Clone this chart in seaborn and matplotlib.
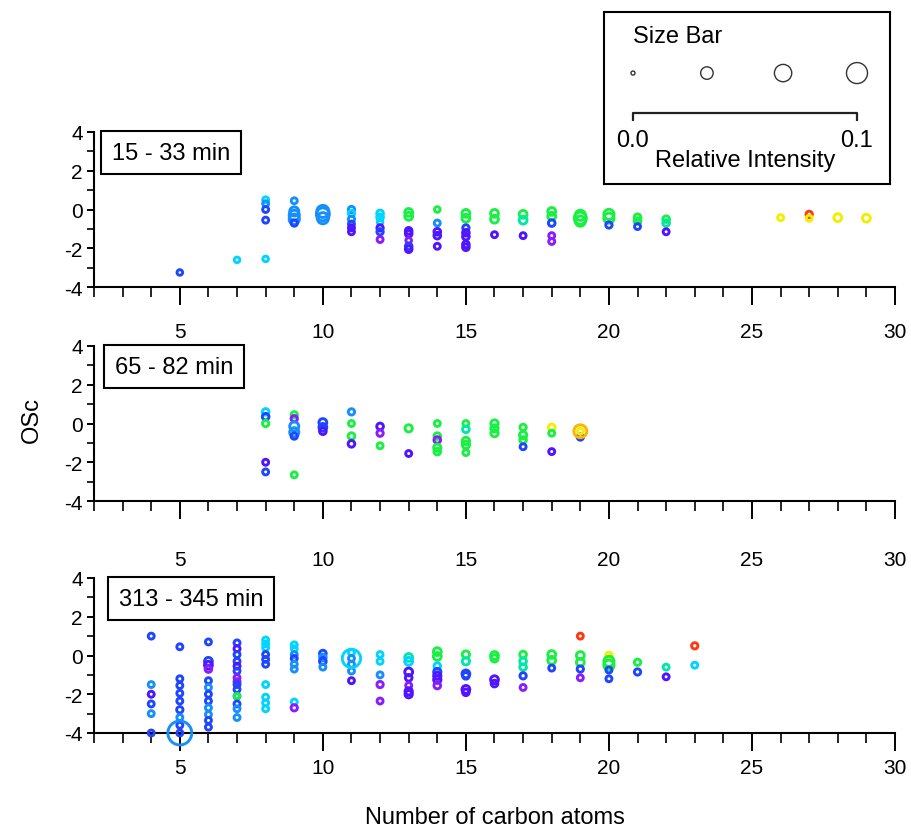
import numpy as np
import pandas as pd
import matplotlib
matplotlib.use("Agg")
import matplotlib.pyplot as plt
import seaborn as sns
from matplotlib.ticker import MultipleLocator

sns.set_theme(style="ticks")
plt.rcParams['font.family'] = ['Liberation Sans', 'DejaVu Sans']
plt.rcParams['axes.unicode_minus'] = False

# ---------------- data ----------------
# colour codes: P purple, V violet-blue, B blue, L light blue, C cyan,
# T teal, G green, Y yellow, O orange, R red
top_carbon = [5, 7, 8, 8, 8, 8, 8,
              9, 9, 9, 9, 9,
              10, 10, 10,
              11, 11, 11, 11, 11, 11,
              12, 12, 12, 12, 12, 12,
              13, 13, 13, 13, 13, 13, 13,
              14, 14, 14, 14, 14,
              15, 15, 15, 15, 15, 15, 15,
              16, 16, 16,
              17, 17, 17,
              18, 18, 18, 18, 18,
              19, 19, 19,
              20, 20, 20,
              21, 21, 21,
              22, 22, 22,
              26, 27, 27, 28, 29]
top_osc = [-3.25, -2.6, -2.55, 0.5, 0.3, 0.0, -0.55,
           0.45, -0.1, -0.3, -0.5, -0.7,
           -0.1, -0.25, -0.45,
           0.0, -0.2, -0.5, -0.75, -0.95, -1.15,
           -0.2, -0.4, -0.65, -0.95, -1.15, -1.55,
           -0.15, -0.35, -1.1, -1.25, -1.6, -1.9, -2.05,
           0.0, -0.7, -1.15, -1.35, -1.9,
           -0.2, -0.45, -0.95, -1.2, -1.4, -1.8, -1.95,
           -0.2, -0.5, -1.3,
           -0.25, -0.55, -1.35,
           -0.1, -0.35, -0.7, -1.35, -1.65,
           -0.3, -0.45, -0.6,
           -0.25, -0.45, -0.8,
           -0.4, -0.6, -0.88,
           -0.5, -0.7, -1.15,
           -0.42, -0.25, -0.45, -0.42, -0.45]
top_color = ["B", "C", "C", "C", "L", "B", "B",
             "L", "L", "L", "L", "B",
             "L", "L", "L",
             "L", "C", "L", "B", "V", "V",
             "C", "C", "C", "V", "B", "P",
             "G", "G", "V", "V", "P", "B", "V",
             "G", "L", "V", "V", "V",
             "G", "G", "B", "V", "V", "V", "V",
             "G", "G", "V",
             "G", "T", "V",
             "G", "G", "B", "P", "P",
             "G", "G", "G",
             "G", "G", "B",
             "G", "G", "B",
             "G", "T", "V",
             "Y", "R", "Y", "Y", "Y"]
top_intensity = [0.003, 0.003, 0.003, 0.004, 0.004, 0.004, 0.004,
                 0.004, 0.015, 0.02, 0.02, 0.005,
                 0.03, 0.035, 0.025,
                 0.005, 0.005, 0.005, 0.004, 0.004, 0.004,
                 0.006, 0.006, 0.003, 0.005, 0.005, 0.004,
                 0.01, 0.01, 0.006, 0.006, 0.003, 0.006, 0.006,
                 0.003, 0.004, 0.006, 0.006, 0.004,
                 0.01, 0.01, 0.005, 0.006, 0.006, 0.006, 0.006,
                 0.01, 0.01, 0.004,
                 0.01, 0.01, 0.004,
                 0.01, 0.01, 0.006, 0.004, 0.004,
                 0.02, 0.03, 0.02,
                 0.02, 0.02, 0.005,
                 0.006, 0.006, 0.004,
                 0.006, 0.006, 0.004,
                 0.004, 0.005, 0.004, 0.01, 0.01]

mid_carbon = [4,
              8, 8, 8, 8, 8,
              9, 9, 9, 9, 9, 9,
              10, 10, 10,
              11, 11, 11, 11,
              12, 12, 12,
              13, 13,
              14, 14, 14, 14, 14,
              15, 15, 15, 15, 15,
              16, 16, 16,
              17, 17, 17, 17,
              18, 18, 18,
              19, 19, 19]
mid_osc = [3.55,
           0.6, 0.35, 0.0, -2.0, -2.5,
           0.45, 0.25, -0.15, -0.45, -0.65, -2.65,
           0.05, -0.2, -0.4,
           0.6, 0.0, -0.65, -1.05,
           -0.15, -0.5, -1.15,
           -0.25, -1.55,
           0.0, -0.65, -0.85, -1.25, -1.45,
           0.0, -0.3, -0.9, -1.1, -1.5,
           0.0, -0.25, -0.5,
           -0.2, -0.6, -0.85, -1.2,
           -0.2, -0.5, -1.45,
           -0.7, -0.4, -0.4]
mid_color = ["G",
             "C", "B", "G", "V", "B",
             "G", "P", "L", "L", "B", "G",
             "B", "B", "V",
             "L", "G", "G", "V",
             "V", "P", "G",
             "G", "V",
             "G", "G", "P", "G", "G",
             "G", "T", "G", "G", "G",
             "G", "G", "G",
             "G", "G", "G", "B",
             "Y", "G", "V",
             "B", "O", "Y"]
mid_intensity = [0.003,
                 0.006, 0.006, 0.005, 0.004, 0.004,
                 0.005, 0.005, 0.015, 0.015, 0.005, 0.004,
                 0.01, 0.01, 0.006,
                 0.005, 0.004, 0.006, 0.006,
                 0.006, 0.005, 0.004,
                 0.008, 0.004,
                 0.004, 0.006, 0.006, 0.008, 0.006,
                 0.004, 0.006, 0.008, 0.008, 0.004,
                 0.008, 0.008, 0.008,
                 0.005, 0.008, 0.006, 0.004,
                 0.006, 0.004, 0.004,
                 0.005, 0.035, 0.004]

bot_carbon = [4, 4, 4, 4, 4, 4,
              5, 5, 5, 5, 5, 5, 5, 5, 5, 5,
              6, 6, 6, 6, 6, 6, 6, 6, 6, 6, 6, 6,
              7, 7, 7, 7, 7, 7, 7, 7, 7, 7, 7, 7, 7, 7, 7,
              8, 8, 8, 8, 8, 8, 8, 8, 8, 8,
              9, 9, 9, 9, 9, 9, 9, 9,
              10, 10, 10, 10,
              11, 11, 11, 11, 11, 11,
              12, 12, 12, 12, 12,
              13, 13, 13, 13, 13, 13, 13,
              14, 14, 14, 14, 14, 14, 14,
              15, 15, 15, 15, 15, 15,
              16, 16, 16, 16,
              17, 17, 17, 17, 17,
              18, 18, 18,
              19, 19, 19, 19, 19,
              20, 20, 20, 20, 20,
              21, 21,
              22, 22,
              23, 23]
bot_osc = [1.0, -1.5, -2.0, -2.5, -3.0, -4.0,
           0.45, -1.2, -1.55, -1.95, -2.35, -2.8, -3.2, -3.6, -4.0, -4.0,
           0.7, -0.3, -0.5, -0.7, -1.3, -1.65, -2.0, -2.35, -2.7, -3.05, -3.35, -3.7,
           0.65, 0.35, 0.05, -0.3, -0.55, -0.8, -1.15, -1.35, -1.5, -1.75, -2.1, -2.1, -2.5, -2.75, -3.2,
           0.8, 0.6, 0.4, 0.05, -0.2, -0.45, -1.5, -2.15, -2.45, -2.75,
           0.55, 0.35, 0.05, -0.15, -0.45, -0.7, -2.4, -2.7,
           0.1, -0.1, -0.3, -0.6,
           0.15, -0.15, -0.45, -0.8, -1.3, -0.15,
           0.05, -0.3, -1.0, -1.5, -2.35,
           -0.1, -0.3, -0.85, -1.15, -1.55, -1.85, -2.0,
           0.2, -0.05, -0.55, -0.85, -1.05, -1.25, -1.55,
           0.05, -0.3, -0.95, -1.05, -1.75, -1.9,
           0.0, -0.15, -1.25, -1.45,
           0.05, -0.3, -0.6, -1.05, -1.65,
           0.05, -0.25, -0.65,
           1.0, 0.0, -0.35, -0.7, -1.15,
           0.0, -0.3, -0.5, -0.75, -1.2,
           -0.35, -0.85,
           -0.6, -1.1,
           0.5, -0.5]
bot_color = ["B", "L", "V", "B", "L", "B",
             "B", "B", "B", "B", "B", "B", "L", "B", "B", "L",
             "B", "B", "V", "P", "B", "L", "B", "B", "L", "L", "B", "B",
             "B", "V", "B", "B", "V", "B", "P", "P", "B", "B", "L", "G", "B", "L", "L",
             "C", "C", "C", "B", "B", "B", "C", "C", "C", "C",
             "C", "C", "L", "B", "L", "L", "C", "P",
             "B", "L", "B", "L",
             "C", "L", "L", "L", "V", "C",
             "C", "C", "L", "P", "P",
             "T", "C", "V", "V", "P", "V", "V",
             "G", "G", "C", "B", "V", "V", "P",
             "G", "T", "B", "B", "V", "V",
             "G", "G", "V", "V",
             "G", "T", "T", "B", "P",
             "G", "G", "B",
             "R", "G", "G", "B", "P",
             "Y", "G", "G", "B", "B",
             "G", "B",
             "T", "V",
             "R", "C"]
bot_intensity = [0.004, 0.004, 0.004, 0.004, 0.004, 0.004,
                 0.004, 0.004, 0.004, 0.004, 0.004, 0.005, 0.004, 0.004, 0.004, 0.13,
                 0.004, 0.01, 0.01, 0.006, 0.004, 0.004, 0.004, 0.004, 0.004, 0.004, 0.004, 0.004,
                 0.004, 0.004, 0.004, 0.004, 0.004, 0.004, 0.004, 0.004, 0.004, 0.004, 0.004, 0.002, 0.004, 0.004, 0.004,
                 0.004, 0.004, 0.004, 0.004, 0.004, 0.004, 0.004, 0.004, 0.004, 0.004,
                 0.004, 0.004, 0.004, 0.004, 0.004, 0.004, 0.004, 0.005,
                 0.006, 0.006, 0.006, 0.004,
                 0.004, 0.004, 0.004, 0.004, 0.004, 0.075,
                 0.004, 0.004, 0.004, 0.005, 0.004,
                 0.01, 0.01, 0.01, 0.006, 0.004, 0.008, 0.008,
                 0.01, 0.01, 0.006, 0.008, 0.008, 0.008, 0.006,
                 0.008, 0.008, 0.01, 0.006, 0.01, 0.006,
                 0.01, 0.008, 0.01, 0.006,
                 0.006, 0.006, 0.006, 0.005, 0.004,
                 0.01, 0.01, 0.004,
                 0.004, 0.01, 0.01, 0.005, 0.004,
                 0.006, 0.02, 0.02, 0.004, 0.004,
                 0.005, 0.005,
                 0.004, 0.004,
                 0.005, 0.004]

panel_labels = ["15 - 33 min", "65 - 82 min", "313 - 345 min"]
legend_intensity = [0.0, 0.033, 0.067, 0.1]
xtick_values = [5, 10, 15, 20, 25, 30]
ytick_values = [-4, -2, 0, 2, 4]

PALETTE = {"P": "#8a1cff", "V": "#5014ff", "B": "#1f46ff", "L": "#168ffc",
           "C": "#00d4ff", "T": "#00e8a8", "G": "#19f043", "Y": "#f2ee00",
           "O": "#ffb400", "R": "#ff3a12"}
SIZES = (9.5, 9.5 + 2200 * 0.15)
NORM = (0.0, 0.15)

# ---------------- figure ----------------
fig = plt.figure(figsize=(9.12, 8.28), dpi=100)
W, H = 912.0, 828.0
left = 94 / W
width = (895 - 94) / W
panel_bottoms_px = [288, 502, 734]
panel_h = 155 / H
box_left_px = [101, 104, 108]
label_pads = [12, 22, 5]

datasets = [
    (top_carbon, top_osc, top_color, top_intensity),
    (mid_carbon, mid_osc, mid_color, mid_intensity),
    (bot_carbon, bot_osc, bot_color, bot_intensity),
]

for i, (c, o, col, inten) in enumerate(datasets):
    ax = fig.add_axes([left, 1 - panel_bottoms_px[i] / H, width, panel_h])
    df = pd.DataFrame({"carbon": c, "osc": o, "color": col, "intensity": inten})
    sns.scatterplot(data=df, x="carbon", y="osc", hue="color", palette=PALETTE,
                    size="intensity", sizes=SIZES, size_norm=NORM,
                    legend=False, ax=ax, clip_on=False, linewidth=0, zorder=3)
    coll = ax.collections[-1]
    fc = coll.get_facecolors()
    coll.set_edgecolors(fc)
    coll.set_facecolors("none")
    coll.set_linewidths(2.1)

    ax.set_xlim(2, 30)
    ax.set_ylim(-4, 4)
    ax.set_xticks(xtick_values)
    ax.set_yticks(ytick_values)
    ax.xaxis.set_minor_locator(MultipleLocator(1))
    ax.yaxis.set_minor_locator(MultipleLocator(1))
    ax.set_xlabel("")
    ax.set_ylabel("")
    ax.patch.set_alpha(0)
    for s in ["top", "right"]:
        ax.spines[s].set_visible(False)
    for s in ["left", "bottom"]:
        ax.spines[s].set_linewidth(1.5)
        ax.spines[s].set_color("black")
    ax.tick_params(axis="x", which="major", length=13, width=1.4, direction="out",
                   labelsize=15, pad=label_pads[i], colors="black")
    ax.tick_params(axis="x", which="minor", length=7, width=1.4, direction="out")
    ax.tick_params(axis="y", which="major", length=5, width=1.4, direction="out",
                   labelsize=15, pad=3, colors="black")
    ax.tick_params(axis="y", which="minor", length=5, width=1.4, direction="out")

    bl = (box_left_px[i] - 94) / (895 - 94)
    ax.text(bl + 11 / 801, 1 - 9.5 / 155, panel_labels[i], transform=ax.transAxes,
            ha="left", va="top", fontsize=17, color="black", zorder=5,
            bbox=dict(boxstyle="square,pad=0.45", fc="white", ec="black", lw=1.5))

fig.text(32 / W, 1 - 420 / H, "OSc", rotation=90, ha="center", va="center",
         fontsize=17, color="black")
fig.text(494.5 / W, 1 - 818 / H, "Number of carbon atoms", ha="center", va="center",
         fontsize=17, color="black")

# ---------------- size bar legend ----------------
lax = fig.add_axes([604 / W, 1 - 185 / H, 286 / W, 172 / H])
lax.set_xlim(-29 / 2240, 257 / 2240)
lax.set_ylim(0, 1)
lax.set_xticks([])
lax.set_yticks([])
lax.set_facecolor("white")
for s in lax.spines.values():
    s.set_visible(True)
    s.set_linewidth(1.5)
    s.set_color("black")
sns.scatterplot(x=legend_intensity, y=[0.645] * len(legend_intensity),
                size=legend_intensity, sizes=(8.4, 8.4 + 2200 * 0.15), size_norm=NORM,
                color="black", legend=False, ax=lax, clip_on=False, linewidth=0)
lc = lax.collections[-1]
lc.set_facecolors("none")
lc.set_edgecolors("#333333")
lc.set_linewidths(1.0)
lax.plot([legend_intensity[0], legend_intensity[0], legend_intensity[-1], legend_intensity[-1]],
         [0.366, 0.4128, 0.4128, 0.366], color="#222222", lw=1.6, solid_capstyle="butt")
lax.text(legend_intensity[0], 0.256, f"{legend_intensity[0]:.1f}", ha="center", va="center",
         fontsize=17, color="black")
lax.text(legend_intensity[-1], 0.256, f"{legend_intensity[-1]:.1f}", ha="center", va="center",
         fontsize=17, color="black")
lax.text(0.493, 0.14, "Relative Intensity", transform=lax.transAxes, ha="center",
         va="center", fontsize=17, color="black")
lax.text(0.1014, 0.86, "Size Bar", transform=lax.transAxes, ha="left", va="center",
         fontsize=17, color="black")

fig.savefig("out.png", dpi=100, facecolor="white")
